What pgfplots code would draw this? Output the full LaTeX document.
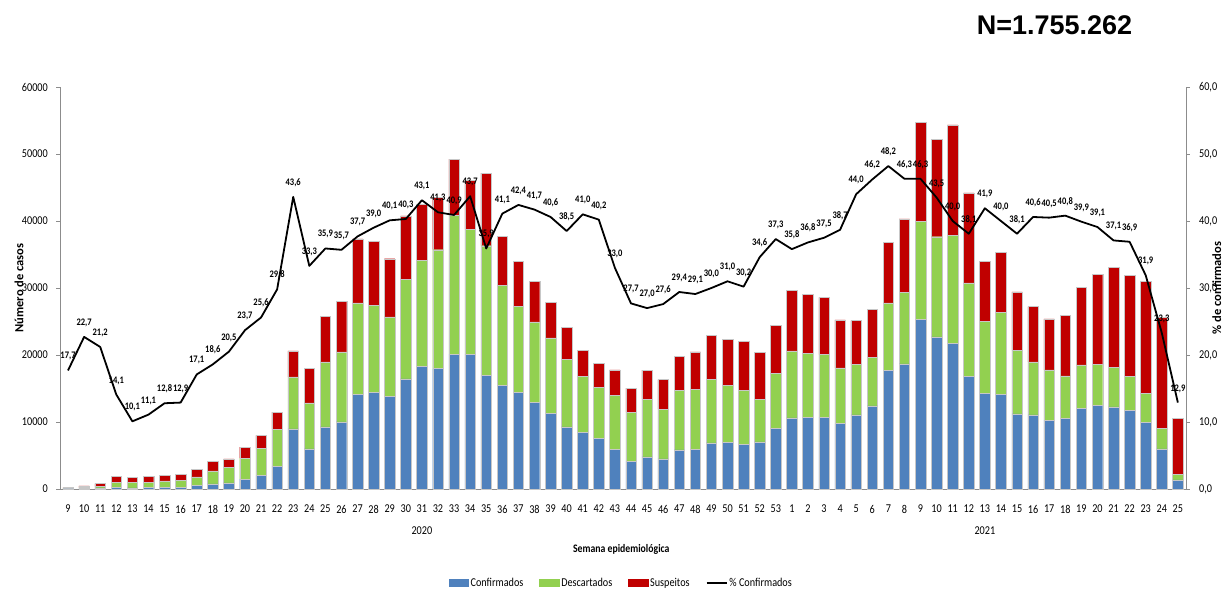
\documentclass[border=0pt]{standalone}
\usepackage{pgfplots}
\pgfplotsset{compat=1.18}
\usepackage{pgfplotstable}
\usepackage{fontspec}
\setmainfont{Carlito}[FakeStretch=0.85]
\newfontfamily\rotfont{Carlito}
\newfontfamily\titlefont{Liberation Sans}
\definecolor{cconf}{HTML}{4F81BD}
\definecolor{cdesc}{HTML}{92D050}
\definecolor{csusp}{HTML}{C00000}
\definecolor{axgray}{HTML}{8C8C8C}
\pgfkeys{/pgf/number format/assume math mode=true}
\newcommand{\fs}[1]{\fontsize{#1}{#1}\selectfont}

\pgfplotstableread{
x conf desc susp pct
0 35 45 120 17.7
1 102 98 250 22.7
2 170 180 450 21.2
3 260 740 840 14.1
4 176 774 790 10.1
5 204 746 890 11.1
6 256 944 800 12.8
7 284 966 950 12.9
8 496 1304 1100 17.1
9 763 1937 1400 18.6
10 923 2277 1300 20.5
11 1481 3119 1650 23.7
12 2048 4002 1950 25.6
13 3418 5482 2570 29.8
14 8982 7758 3860 43.6
15 5987 6873 5120 33.3
16 9255 9715 6810 35.9
17 10017 10443 7600 35.7
18 14081 13689 9580 37.7
19 14410 13010 9530 39.0
20 13782 11898 8690 40.1
21 16434 14856 9490 40.3
22 18326 15794 8400 43.1
23 17970 17740 7800 41.3
24 20131 20699 8390 40.9
25 20146 18594 7360 43.7
26 16923 19387 10830 35.9
27 15515 14835 7400 41.1
28 14408 12812 6760 42.4
29 12944 11986 6110 41.7
30 11311 11239 5310 40.6
31 9275 10095 4720 38.5
32 8491 8299 3920 41.0
33 7525 7625 3570 40.2
34 5867 8093 3820 33.0
35 4169 7301 3580 27.7
36 4787 8623 4320 27.0
37 4510 7410 4420 27.6
38 5827 8923 5070 29.4
39 5954 8896 5610 29.1
40 6885 9455 6610 30.0
41 6913 8537 6850 31.0
42 6644 8106 7250 30.2
43 7045 6365 6950 34.6
44 9097 8143 7150 37.3
45 10633 9977 9090 35.8
46 10694 9576 8790 36.8
47 10729 9341 8540 37.5
48 9764 8316 7150 38.7
49 11057 7573 6500 44.0
50 12391 7229 7200 46.2
51 17742 10028 9040 48.2
52 18673 10627 11030 46.3
53 25321 14659 14710 46.3
54 22707 14943 14550 43.5
55 21736 16114 16490 40.0
56 16844 13906 13460 38.1
57 14254 10726 9040 41.9
58 14148 12172 9050 40.0
59 11205 9505 8700 38.1
60 11051 7919 8250 40.6
61 10279 7501 7600 40.5
62 10579 6311 9040 40.8
63 12010 6520 11570 39.9
64 12528 6102 13410 39.1
65 12273 5907 14900 37.1
66 11767 5023 15100 36.9
67 9902 4408 16730 31.9
68 5972 3118 16540 23.3
69 1358 782 8390 12.9
}\data

\begin{document}
\begin{tikzpicture}[x=1pt,y=1pt]
\path[use as bounding box] (0,0) rectangle (1225,590);
\node[font=\titlefont\bfseries\fs{27}] at (1054.5,565) {N=1.755.262};
\begin{axis}[
  at={(60pt,101pt)}, anchor=south west, scale only axis,
  width=1126pt, height=402pt,
  ybar stacked, bar width=10.5pt,
  xmin=-0.5, xmax=69.5, ymin=0, ymax=60000,
  clip=false,
  axis y line*=left, axis x line*=bottom,
  axis line style={axgray, line width=0.7pt},
  xtick={0,...,69},
  xticklabels={9,10,11,12,13,14,15,16,17,18,19,20,21,22,23,24,25,26,27,28,29,30,31,32,33,34,35,36,37,38,39,40,41,42,43,44,45,46,47,48,49,50,51,52,53,1,2,3,4,5,6,7,8,9,10,11,12,13,14,15,16,17,18,19,20,21,22,23,24,25},
  xtick style={draw=none},
  xticklabel style={font=\fs{12}, anchor=center, yshift=-16pt, inner sep=0pt},
  ytick={0,10000,...,60000},
  scaled y ticks=false,
  yticklabel style={font=\fs{12}, /pgf/number format/1000 sep={}, anchor=east, inner sep=0pt, xshift=-8pt},
  ytick style={axgray, line width=0.7pt},
  tick align=outside, major tick length=4pt,
  xlabel={Semana epidemiológica},
  xlabel style={font=\bfseries\fs{11.5}, at={(axis description cs:0.4985,-0.1493)}, anchor=center},
  ylabel={Número de casos},
  ylabel style={font=\rotfont\bfseries\fs{12.5}, at={(axis description cs:-0.0364,0.5)}, anchor=center},
]
\addplot[fill=cconf, draw=black!22, line width=0.4pt] table[x=x,y=conf]{\data};
\addplot[fill=cdesc, draw=black!22, line width=0.4pt] table[x=x,y=desc]{\data};
\addplot[fill=csusp, draw=black!22, line width=0.4pt] table[x=x,y=susp]{\data};
\node[font=\fs{12}] at (axis cs:22,0) [yshift=-42pt] {2020};
\node[font=\fs{12}] at (axis cs:57,0) [yshift=-42pt] {2021};
\end{axis}
\begin{axis}[
  at={(60pt,101pt)}, anchor=south west, scale only axis,
  width=1126pt, height=402pt,
  xmin=-0.5, xmax=69.5, ymin=0, ymax=60,
  clip=false,
  axis y line*=right, axis x line=none,
  axis line style={axgray, line width=0.7pt},
  ytick={0,10,...,60},
  yticklabel={\pgfmathprintnumber[fixed,fixed zerofill,precision=1,use comma]{\tick}},
  yticklabel style={font=\fs{12}, anchor=west, inner sep=0pt, xshift=9pt},
  ytick style={axgray, line width=0.7pt},
  tick align=outside, major tick length=4pt,
  ylabel={\% de confirmados},
  ylabel style={font=\rotfont\bfseries\fs{12.5}, at={(axis description cs:1.0275,0.5)}, anchor=center},
  legend columns=4,
  legend style={at={(axis description cs:0.4985,-0.234)}, anchor=center, draw=none, fill=none,
    font=\fs{12}, /tikz/every even column/.append style={column sep=14pt}},
]
\addlegendimage{legend image code/.code={\fill[cconf] (0pt,-3.4pt) rectangle (19.5pt,3.4pt);}}
\addlegendentry{Confirmados}
\addlegendimage{legend image code/.code={\fill[cdesc] (0pt,-3.4pt) rectangle (19.5pt,3.4pt);}}
\addlegendentry{Descartados}
\addlegendimage{legend image code/.code={\fill[csusp] (0pt,-3.4pt) rectangle (19.5pt,3.4pt);}}
\addlegendentry{Suspeitos}
\addlegendimage{legend image code/.code={\draw[black, line width=1.8pt] (0pt,0pt) -- (20pt,0pt);}}
\addlegendentry{\% Confirmados}
\addplot[black, line width=1.8pt, line join=round, forget plot,
  nodes near coords={\pgfmathprintnumber[fixed,fixed zerofill,precision=1,use comma]{\pgfplotspointmeta}},
  every node near coord/.append style={font=\bfseries\fs{10}, anchor=base, yshift=11.5pt, inner sep=0pt, text=black}]
  table[x=x,y=pct]{\data};
\end{axis}
\end{tikzpicture}
\end{document}
